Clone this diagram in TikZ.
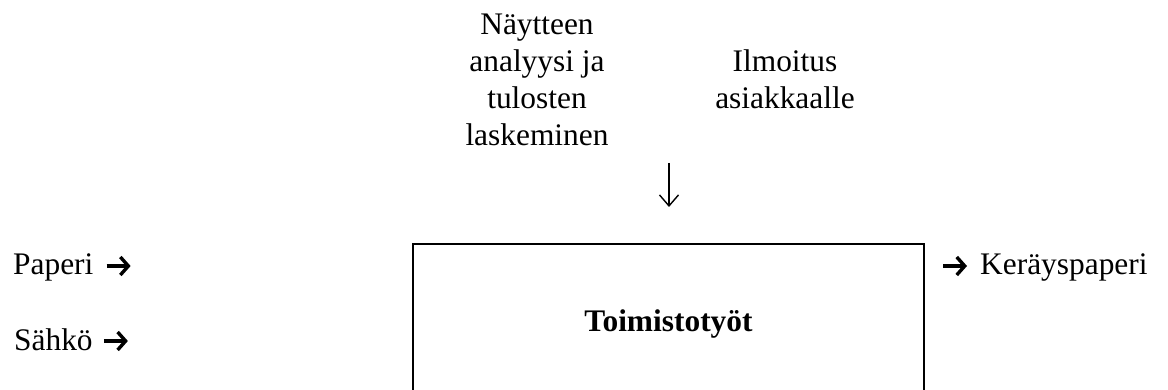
\documentclass[tikz,border=0pt]{standalone}
\usepackage{fontspec}
\setmainfont{Liberation Serif}
\usetikzlibrary{arrows.meta}
\begin{document}
\begin{tikzpicture}[x=1pt,y=-1pt,
  txt/.style={inner sep=0pt,font=\fontsize{31.4}{36.7}\selectfont},
  fatarrow/.style={line width=3.2pt,-{Straight Barb[length=8pt,width=18pt,line width=3.4pt]}},
  thinarrow/.style={line width=1.4pt,-{Straight Barb[length=11pt,width=19pt,line width=1.4pt]}},
  boxstyle/.style={draw,line width=2.2pt,minimum width=511pt,minimum height=154pt,inner sep=0pt,
    text height=27pt,text depth=7pt,font=\fontsize{31.4}{36.7}\selectfont\bfseries}]
\useasboundingbox (0,0) rectangle (1168,390);
\clip (0,0) rectangle (1168,390);
\fill[white] (0,0) rectangle (1168,390);
% top texts
\node[txt,anchor=base] (nayte) at (537,35)
  {\renewcommand\arraystretch{1}\setlength\tabcolsep{0pt}\begin{tabular}[t]{c}Näytteen\\analyysi ja\\tulosten\\laskeminen\end{tabular}};
\node[txt,anchor=base] (ilmo) at (785,72)
  {\renewcommand\arraystretch{1}\setlength\tabcolsep{0pt}\begin{tabular}[t]{c}Ilmoitus\\asiakkaalle\end{tabular}};
% down arrow
\coordinate (dtop) at (669,163);
\coordinate (dbot) at (669,207);
\draw[thinarrow] (dtop) -- (dbot);
% main box
\node[boxstyle] (box) at (668.5,321) {Toimistotyöt};
% inputs
\node[txt,anchor=base west] (paperi) at (13,275) {Paperi};
\node[txt,anchor=base west] (sahko) at (14,350) {Sähkö};
\draw[fatarrow] ([xshift=13pt,yshift=9pt]paperi.base east) -- ([xshift=37pt,yshift=9pt]paperi.base east);
\draw[fatarrow] ([xshift=11pt,yshift=9pt]sahko.base east) -- ([xshift=35pt,yshift=9pt]sahko.base east);
% output
\node[txt,anchor=base west] (kera) at (980,275) {Keräyspaperi};
\draw[fatarrow] ([xshift=-37pt,yshift=9pt]kera.base west) -- ([xshift=-13pt,yshift=9pt]kera.base west);
\end{tikzpicture}
\end{document}
